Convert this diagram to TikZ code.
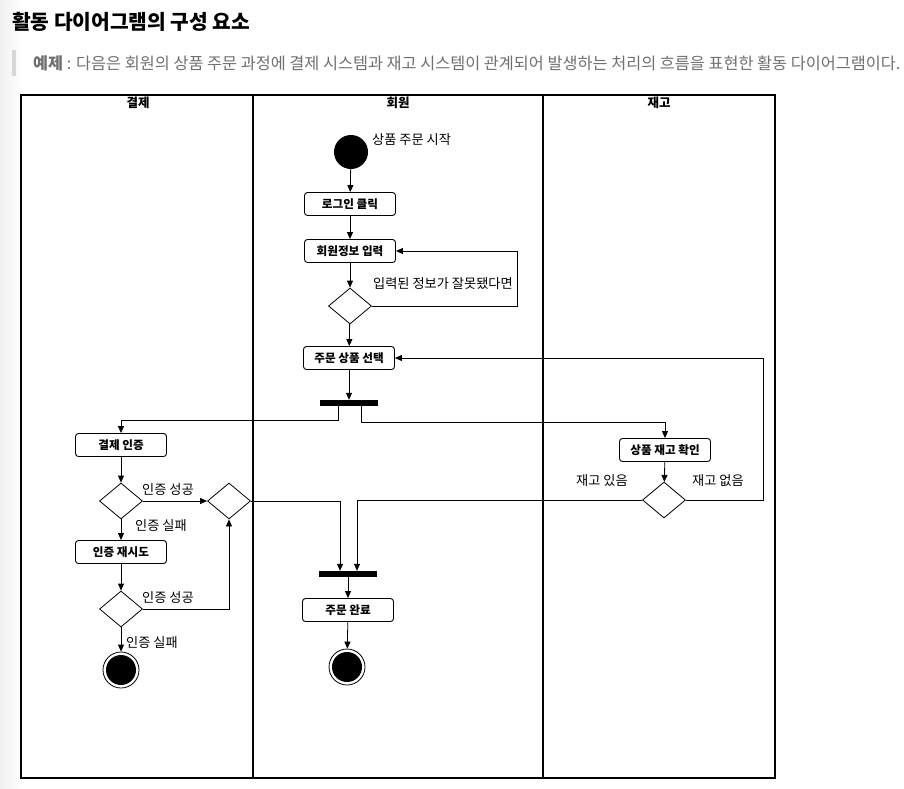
\documentclass[tikz,border=0pt]{standalone}
\usepackage{fontspec}
\setmainfont{Noto Sans CJK KR}
\usetikzlibrary{arrows.meta,shapes.geometric}
\definecolor{subgray}{RGB}{112,112,112}
\definecolor{bargray}{RGB}{215,215,215}
\begin{document}
\begin{tikzpicture}[x=1pt,y=-1pt,
  act/.style={draw,rounded corners=3pt,minimum width=91pt,minimum height=23pt,inner sep=0pt,line width=0.9pt,font=\fontsize{11.6}{13}\selectfont\bfseries},
  dec/.style={draw,diamond,minimum width=43pt,minimum height=36pt,inner sep=0pt,line width=0.8pt},
  forkbar/.style={fill=black,rectangle,minimum width=58pt,minimum height=6pt,inner sep=0pt},
  startnode/.style={fill=black,circle,minimum size=34pt,inner sep=0pt},
  endnode/.style={draw,circle,minimum size=36pt,inner sep=0pt,line width=0.8pt,path picture={\fill (path picture bounding box.center) circle (15pt);}},
  conn/.style={-{Triangle[length=7pt,width=6pt]},line width=0.8pt},
  lbl/.style={anchor=west,inner sep=0pt,font=\fontsize{13.2}{15}\selectfont},
  lanehead/.style={inner sep=0pt,font=\fontsize{12.5}{15}\selectfont\bfseries},
  lane/.style={line width=2pt}
]
\useasboundingbox (0,0) rectangle (904,788);
\fill[white] (0,0) rectangle (904,788);
\shade[left color=black!6,right color=white] (0,0) rectangle (22,788);

% heading
\node[anchor=west,inner sep=0pt,font=\fontsize{20.3}{24}\selectfont\bfseries] (title) at (12,22) {활동 다이어그램의 구성 요소};
\fill[bargray] (12,50) rectangle (16,76);
\node[anchor=west,inner sep=0pt,text=subgray,font=\fontsize{16.3}{19}\selectfont] (sub) at (33,63) {\textbf{예제} : 다음은 회원의 상품 주문 과정에 결제 시스템과 재고 시스템이 관계되어 발생하는 처리의 흐름을 표현한 활동 다이어그램이다.};

% swimlanes
\draw[lane] (21,95) rectangle (775,778);
\draw[lane] (253,95) -- (253,778);
\draw[lane] (543,95) -- (543,778);
\node[lanehead] (h1) at (138,103) {결제};
\node[lanehead] (h2) at (398,103) {회원};
\node[lanehead] (h3) at (659,103) {재고};

% member lane
\node[startnode] (start) at (351,152) {};
\node[lbl] (lstart) at (372,140) {상품 주문 시작};
\node[act] (login) at (350,204) {로그인 클릭};
\node[act] (info) at (350,251) {회원정보 입력};
\node[dec] (d1) at (350,306) {};
\node[lbl] (lwrong) at (373,284) {입력된 정보가 잘못됐다면};
\coordinate (c1) at (517,306);
\node[act] (select) at (349,358) {주문 상품 선택};
\node[forkbar] (fork1) at (349,403) {};
\node[forkbar] (fork2) at (348,574) {};
\node[act] (done) at (348,610) {주문 완료};
\node[endnode] (end2) at (347,667) {};

% payment lane
\node[act] (pay) at (121,445) {결제 인증};
\node[dec] (d2) at (121,501) {};
\node[dec] (d3) at (229,501) {};
\node[lbl] (lok1) at (142,490) {인증 성공};
\node[lbl] (lfail1) at (135,526) {인증 실패};
\node[act] (retry) at (121,552) {인증 재시도};
\node[dec] (d4) at (121,609) {};
\node[lbl] (lok2) at (142,598) {인증 성공};
\node[lbl] (lfail2) at (126,643) {인증 실패};
\node[endnode] (end1) at (121,670) {};

% stock lane
\node[act] (stock) at (665,450) {상품 재고 확인};
\node[dec] (d5) at (664,500) {};
\node[lbl] (lyes) at (576,481) {재고 있음};
\node[lbl] (lno) at (692,481) {재고 없음};
\coordinate (c2) at (763,500);

% connectors
\draw[conn] (start) -- (login);
\draw[conn] (login) -- (info);
\draw[conn] (info) -- (d1);
\draw[conn] (d1.east) -- (c1) |- (info.east);
\draw[conn] (d1) -- (select);
\draw[conn] (select) -- (fork1);
\draw[conn] ([xshift=-11pt]fork1.south) -- ++(0,14) -| (pay.north);
\draw[conn] ([xshift=12pt]fork1.south) -- ++(0,16) -| (stock.north);
\draw[conn] (pay) -- (d2);
\draw[conn] (d2) -- (d3);
\draw[conn] (d2) -- (retry);
\draw[conn] (retry) -- (d4);
\draw[conn] (d4.east) -| (d3.south);
\draw[conn] (d4) -- (end1);
\draw[conn] (d3.east) -| ([xshift=-8pt]fork2.north);
\draw[conn] (d5.west) -| ([xshift=9pt]fork2.north);
\draw[conn] (fork2) -- (done);
\draw[conn] (done) -- (end2);
\draw[conn] (stock) -- (d5);
\draw[conn] (d5.east) -- (c2) |- (select.east);
\end{tikzpicture}
\end{document}
